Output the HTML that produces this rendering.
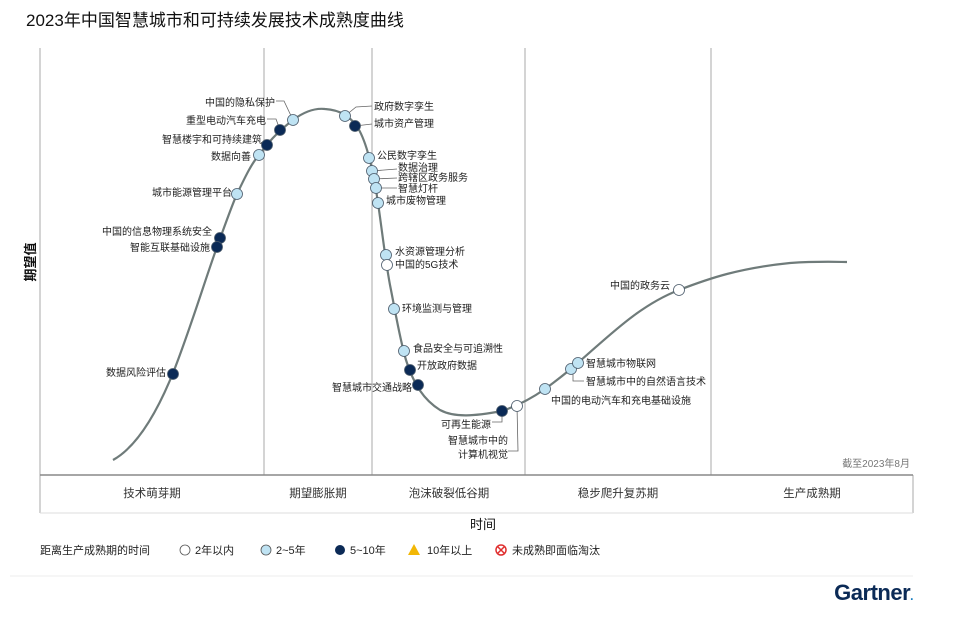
<!DOCTYPE html>
<html><head><meta charset="utf-8"><style>
html,body{margin:0;padding:0;background:#fff;}
svg{display:block;font-family:"Liberation Sans","Noto Sans CJK SC",sans-serif;}
</style></head><body>
<svg width="969" height="622" viewBox="0 0 969 622" xmlns="http://www.w3.org/2000/svg">
<text x="26" y="26" font-size="17" fill="#111">2023年中国智慧城市和可持续发展技术成熟度曲线</text>
<g stroke="#aaa" stroke-width="1">
<line x1="40" y1="48" x2="40" y2="513"/>
<line x1="264" y1="48" x2="264" y2="475"/>
<line x1="372" y1="48" x2="372" y2="475"/>
<line x1="525" y1="48" x2="525" y2="475"/>
<line x1="711" y1="48" x2="711" y2="475"/>
<line x1="913" y1="475" x2="913" y2="513"/>
<line x1="40" y1="513" x2="913" y2="513" stroke="#ddd"/>
<line x1="40" y1="475" x2="913" y2="475" stroke="#888" stroke-width="1.5"/>
<line x1="10" y1="576" x2="913" y2="576" stroke="#eee"/>
</g>
<text transform="translate(35,262) rotate(-90)" font-size="13" font-weight="bold" text-anchor="middle" fill="#111">期望值</text>
<g font-size="11.5" fill="#333" text-anchor="middle">
<text x="152" y="497">技术萌芽期</text><text x="318" y="497">期望膨胀期</text><text x="449" y="497">泡沫破裂低谷期</text><text x="618" y="497">稳步爬升复苏期</text><text x="812" y="497">生产成熟期</text>
</g>
<text x="483" y="529" font-size="13" text-anchor="middle" fill="#111">时间</text>
<text x="910" y="467" font-size="10" text-anchor="end" fill="#777">截至2023年8月</text>
<path d="M113,460 C140,445 160,405 173,373 C190,330 205,280 217,247 C225,225 232,205 237,194 C246,175 252,163 259,155 C268,143 276,133 293,120 C305,111 315,108 325,109 C340,110 350,116 358,128 C368,145 374,175 378,203 C382,230 385,258 390,285 C396,315 400,340 406,360 C414,385 424,400 440,410 C455,418 475,416 502,411 C520,405 535,396 545,389 C560,378 570,370 580,361 C610,335 640,305 679,290 C710,278 740,268 790,263 C820,261 840,262 847,262" fill="none" stroke="#6f7b7a" stroke-width="2.2"/>
<g stroke="#666" stroke-width="0.8" fill="none">
<path d="M276,101 L284,101 L293,120"/>
<path d="M267,119 L276,119 L280,130"/>
<path d="M345,116 L356,107 L372,106"/>
<path d="M355,126 L372,124"/>
<path d="M372,171 L397,169"/><path d="M374,179 L397,178"/><path d="M376,188 L397,188"/>
<path d="M492,422 L502,422 L502,411"/>
<path d="M508,451 L518,451 L517,406"/>
<path d="M573,369 L573,381 L584,381"/>
</g>
<g stroke="#4a5a6a" stroke-width="0.8">
<g fill="#bfe3f3">
<circle cx="293" cy="120" r="5.5"/><circle cx="259" cy="155" r="5.5"/><circle cx="237" cy="194" r="5.5"/>
<circle cx="345" cy="116" r="5.5"/><circle cx="369" cy="158" r="5.5"/><circle cx="372" cy="171" r="5.5"/>
<circle cx="374" cy="179" r="5.5"/><circle cx="376" cy="188" r="5.5"/><circle cx="378" cy="203" r="5.5"/>
<circle cx="386" cy="255" r="5.5"/><circle cx="394" cy="309" r="5.5"/><circle cx="404" cy="351" r="5.5"/>
<circle cx="545" cy="389" r="5.5"/><circle cx="571" cy="369" r="5.5"/><circle cx="578" cy="363" r="5.5"/>
</g>
<g fill="#0b2a56">
<circle cx="280" cy="130" r="5.5"/><circle cx="267" cy="145" r="5.5"/><circle cx="220" cy="238" r="5.5"/>
<circle cx="217" cy="247" r="5.5"/><circle cx="173" cy="374" r="5.5"/><circle cx="355" cy="126" r="5.5"/>
<circle cx="410" cy="370" r="5.5"/><circle cx="418" cy="385" r="5.5"/><circle cx="502" cy="411" r="5.5"/>
</g>
<g fill="#fff">
<circle cx="387" cy="265" r="5.5"/><circle cx="517" cy="406" r="5.5"/><circle cx="679" cy="290" r="5.5"/>
</g>
</g>
<g font-size="10" fill="#222">
<g text-anchor="end">
<text x="275" y="106">中国的隐私保护</text>
<text x="266" y="124">重型电动汽车充电</text>
<text x="262" y="143">智慧楼宇和可持续建筑</text>
<text x="251" y="160">数据向善</text>
<text x="232" y="196">城市能源管理平台</text>
<text x="212" y="235">中国的信息物理系统安全</text>
<text x="210" y="251">智能互联基础设施</text>
<text x="166" y="376">数据风险评估</text>
<text x="412" y="391">智慧城市交通战略</text>
<text x="491" y="428">可再生能源</text>
<text x="508" y="444">智慧城市中的</text>
<text x="508" y="458">计算机视觉</text>
<text x="670" y="289">中国的政务云</text>
</g>
<text x="374" y="110">政府数字孪生</text>
<text x="374" y="127">城市资产管理</text>
<text x="377" y="159">公民数字孪生</text>
<text x="398" y="171">数据治理</text>
<text x="398" y="181">跨辖区政务服务</text>
<text x="398" y="192">智慧灯杆</text>
<text x="386" y="204">城市废物管理</text>
<text x="395" y="255">水资源管理分析</text>
<text x="395" y="268">中国的5G技术</text>
<text x="402" y="312">环境监测与管理</text>
<text x="413" y="352">食品安全与可追溯性</text>
<text x="417" y="369">开放政府数据</text>
<text x="551" y="404">中国的电动汽车和充电基础设施</text>
<text x="586" y="385">智慧城市中的自然语言技术</text>
<text x="586" y="367">智慧城市物联网</text>
</g>
<g font-size="11" fill="#222">
<text x="40" y="554">距离生产成熟期的时间</text>
<circle cx="185" cy="550" r="5" fill="#fff" stroke="#555" stroke-width="0.8"/><text x="195" y="554">2年以内</text>
<circle cx="266" cy="550" r="5" fill="#bfe3f3" stroke="#555" stroke-width="0.8"/><text x="276" y="554">2~5年</text>
<circle cx="340" cy="550" r="5" fill="#0b2a56"/><text x="350" y="554">5~10年</text>
<polygon points="414,544 420,555 408,555" fill="#f2b705"/><text x="427" y="554">10年以上</text>
<circle cx="501" cy="550" r="5" fill="#fff" stroke="#e03030" stroke-width="1.5"/>
<path d="M498,547 L504,553 M504,547 L498,553" stroke="#e03030" stroke-width="1.5"/>
<text x="512" y="554">未成熟即面临淘汰</text>
</g>
<text x="913" y="600" font-size="22" font-weight="bold" text-anchor="end" fill="#0b2a56" letter-spacing="-0.5">Gartner<tspan fill="#1a7fc1" font-size="12">.</tspan></text>
</svg>
</body></html>
